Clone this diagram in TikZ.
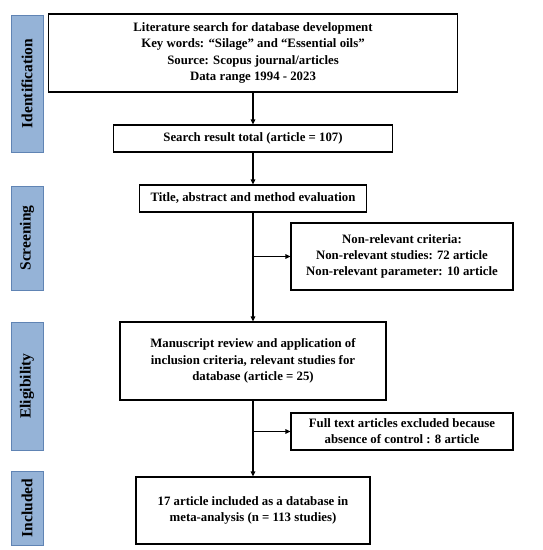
\documentclass[tikz,border=0pt]{standalone}
\usepackage{fontspec}
\setmainfont{Liberation Serif}
\usepackage{xcolor}
\usetikzlibrary{arrows.meta, positioning}

\definecolor{barfill}{RGB}{149,179,215}
\definecolor{barline}{RGB}{96,132,180}

\begin{document}
\begin{tikzpicture}[x=1pt, y=-1pt,
  every node/.style={font=\fontsize{12.8}{16.2}\selectfont\bfseries, align=center, inner sep=2pt},
  flowbox/.style={draw, line width=1.1pt, rectangle},
  phasebar/.style={draw=barline, fill=barfill, line width=0.9pt, rotate=90, minimum height=32pt, font=\fontsize{15.5}{17}\selectfont\bfseries},
  flowarrow/.style={-{Triangle[length=5pt, width=4.5pt]}, line width=1.3pt}]
  \useasboundingbox (0,0) rectangle (542,550);
  % phase bars
  \node[phasebar, minimum width=137pt] (ident) at (27,83.5) {Identification};
  \node[phasebar, minimum width=104pt] (screen) at (27,238) {Screening};
  \node[phasebar, minimum width=128pt] (elig) at (27,386) {Eligibility};
  \node[phasebar, minimum width=74pt] (incl) at (27,508) {Included};
  % main flow
  \node[flowbox, minimum width=409pt, minimum height=78pt] (search) at (253,53)
    {Literature search for database development\\Key words: ``Silage'' and ``Essential oils''\\Source: Scopus journal/articles\\Data range 1994 - 2023};
  \node[flowbox, minimum width=279pt, minimum height=27pt] (total) at (253,138.5) {Search result total (article = 107)};
  \node[flowbox, minimum width=227pt, minimum height=27pt] (title) at (253,198.5) {Title, abstract and method evaluation};
  \node[flowbox, minimum width=222pt, minimum height=67pt] (nonrel) at (402,256.5)
    {Non-relevant criteria:\\Non-relevant studies: 72 article\\Non-relevant parameter: 10 article};
  \node[flowbox, minimum width=266pt, minimum height=78pt] (review) at (253,361)
    {Manuscript review and application of\\inclusion criteria, relevant studies for\\database (article = 25)};
  \node[flowbox, minimum width=222pt, minimum height=37pt] (excl) at (402,431.5)
    {Full text articles excluded because\\absence of control : 8 article};
  \node[flowbox, minimum width=234pt, minimum height=67pt] (final) at (253,510.5)
    {17 article included as a database in\\meta-analysis (n = 113 studies)};
  % connectors
  \draw[flowarrow] (search) -- (total);
  \draw[flowarrow] (total) -- (title);
  \draw[flowarrow] (title) -- (review);
  \draw[flowarrow] (nonrel.west -| title.south) -- (nonrel.west);
  \draw[flowarrow] (review) -- (final);
  \draw[flowarrow] (excl.west -| review.south) -- (excl.west);
\end{tikzpicture}
\end{document}
